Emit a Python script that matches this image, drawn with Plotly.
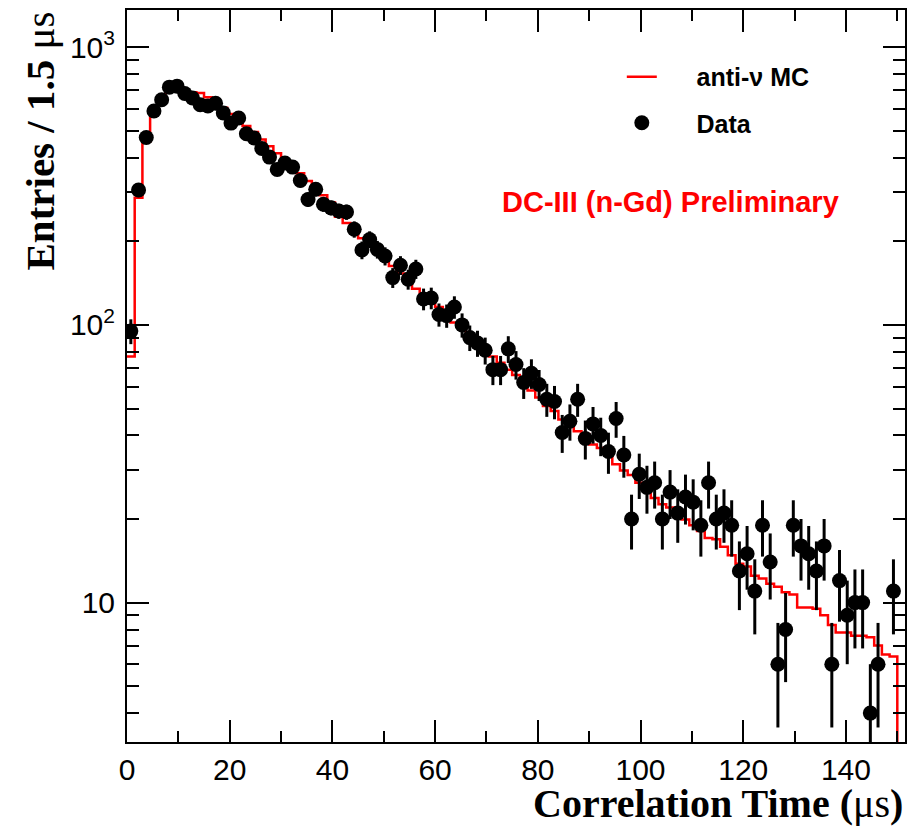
import math
import plotly.graph_objects as go

# ---- data ----
bin_width = 1.5  # microseconds

data_counts = [
    95, 306, 473, 589, 647, 718, 724, 681, 656, 621,
    614, 628, 580, 533, 556, 488, 471, 432, 402, 363,
    383, 370, 331, 283, 308, 272, 264, 257, 255, 221,
    186, 203, 187, 177, 148, 164, 146, 159, 124, 125,
    109, 108, 116, 100, 90, 86, 81, 69, 69, 82,
    72, 62, 67, 61, 54, 53, 41, 45, 54, 39,
    44, 40, 35, 46, 34, 20, 29, 26, 27, 20,
    25, 21, 24, 23, 19, 27, 20, 21, 19, 13,
    15, 11, 19, 14, 6, 8, 19, 16, 15, 13,
    16, 6, 12, 9, 10, 10, 4, 6, None, 11,
]

mc_counts = [
    77, 287, 458, 588, 655, 700, 705, 695, 688, 684,
    660, 635, 605, 575, 548, 520, 495, 465, 440, 415,
    395, 372, 352, 330, 312, 293, 276, 245, 233, 218,
    205, 193, 182, 172, 163, 153, 144, 135, 128, 122,
    116, 109, 102, 97, 92, 87, 82, 77, 73, 69,
    66, 61, 58, 54.8, 51, 49, 45.6, 43.5, 41.4, 40.5,
    37.1, 36, 34.8, 31.5, 29.9, 28.8, 27, 25.5, 23.8, 22.6,
    22.0, 20.8, 19.9, 19.0, 18.1, 17.1, 16.9, 15.9, 14.8, 13.8,
    13.5, 12.5, 12.2, 11.7, 11.4, 10.9, 10.7, 9.6, 9.6, 9.5,
    9.0, 8.3, 7.8, 7.8, 7.6, 7.6, 7.5, 7.0, 6.5, 6.4,
]

x_ticks = [0, 20, 40, 60, 80, 100, 120, 140]
y_tick_vals = [10, 100, 1000]
y_tick_text = ["10", "10<sup>2</sup>", "10<sup>3</sup>"]

# ---- derived bin geometry ----
n_bins = len(data_counts)
centers = [(i + 0.5) * bin_width for i in range(n_bins)]
edges = [i * bin_width for i in range(len(mc_counts) + 1)]
errors = [math.sqrt(v) if v is not None else None for v in data_counts]

# step outline for the MC histogram (drops below the axis at the right end)
floor_val = 1.0
step_x = edges[:-1] + [edges[-1], edges[-1]]
step_y = mc_counts + [mc_counts[-1], floor_val]

minor_y = [m * 10 ** e for e in range(0, 4) for m in range(2, 10)]

pad = "\u00a0" * 5

fig = go.Figure()

fig.add_trace(go.Scatter(
    x=step_x, y=step_y, mode="lines",
    line=dict(color="#ff0000", width=2.5, shape="hv"),
    name=pad + "<b>anti-\u03bd MC</b>",
    legend="legend",
    hoverinfo="skip",
))

fig.add_trace(go.Scatter(
    x=centers, y=data_counts, mode="markers",
    marker=dict(color="black", size=15),
    error_y=dict(type="data", array=errors, visible=True,
                 color="black", thickness=3, width=0),
    name=pad + "<b>Data</b>",
    legend="legend2",
))

tick_font = dict(family="Liberation Sans, Arial", size=30, color="black")
leg_font = dict(family="Liberation Sans, Arial", size=25, color="black")

fig.update_layout(
    width=917, height=826,
    margin=dict(l=127, r=12, t=8, b=84),
    paper_bgcolor="white", plot_bgcolor="white",
    showlegend=True,
    legend=dict(x=0.636, y=0.940, xanchor="left", yanchor="top",
                font=leg_font, bgcolor="rgba(0,0,0,0)", borderwidth=0),
    legend2=dict(x=0.636, y=0.877, xanchor="left", yanchor="top",
                 font=leg_font, bgcolor="rgba(0,0,0,0)", borderwidth=0),
    xaxis=dict(
        range=[0, 151.5], tickmode="array", tickvals=x_ticks,
        ticks="inside", ticklen=22, tickwidth=1.5, tickcolor="black",
        minor=dict(dtick=10, tick0=0, ticks="inside", ticklen=11, tickwidth=1.5, tickcolor="black"),
        showline=True, linecolor="black", linewidth=2, mirror="allticks",
        showgrid=False, zeroline=False, tickfont=tick_font, ticklabelstandoff=0,
    ),
    yaxis=dict(
        type="log", range=[0.498, 3.134], tickmode="array",
        tickvals=y_tick_vals, ticktext=y_tick_text,
        ticks="inside", ticklen=22, tickwidth=1.5, tickcolor="black",
        minor=dict(tickmode="array", tickvals=minor_y, ticks="inside", ticklen=12,
                   tickwidth=1.5, tickcolor="black"),
        showline=True, linecolor="black", linewidth=2, mirror="allticks",
        showgrid=False, zeroline=False, tickfont=tick_font, ticklabelstandoff=4,
    ),
    annotations=[
        dict(text="<b>Correlation Time (</b>\u03bcs<b>)</b>", xref="paper", yref="paper",
             x=1.0, y=0.0, xanchor="right", yanchor="top", yshift=-37, showarrow=False,
             font=dict(family="Liberation Serif, Times New Roman, serif", size=40, color="black")),
        dict(text="<b>Entries / 1.5 </b>\u03bcs", xref="paper", yref="paper",
             x=0.0, y=1.0, xanchor="right", yanchor="top", xshift=-63, textangle=-90,
             showarrow=False,
             font=dict(family="Liberation Serif, Times New Roman, serif", size=41, color="black")),
        dict(text="<b>DC-III (n-Gd) Preliminary</b>", xref="paper", yref="paper",
             x=0.698, y=0.738, xanchor="center", yanchor="middle", showarrow=False,
             font=dict(family="Liberation Sans, Arial", size=29, color="#ff0000")),
    ],
)

fig.write_html("out.html")
